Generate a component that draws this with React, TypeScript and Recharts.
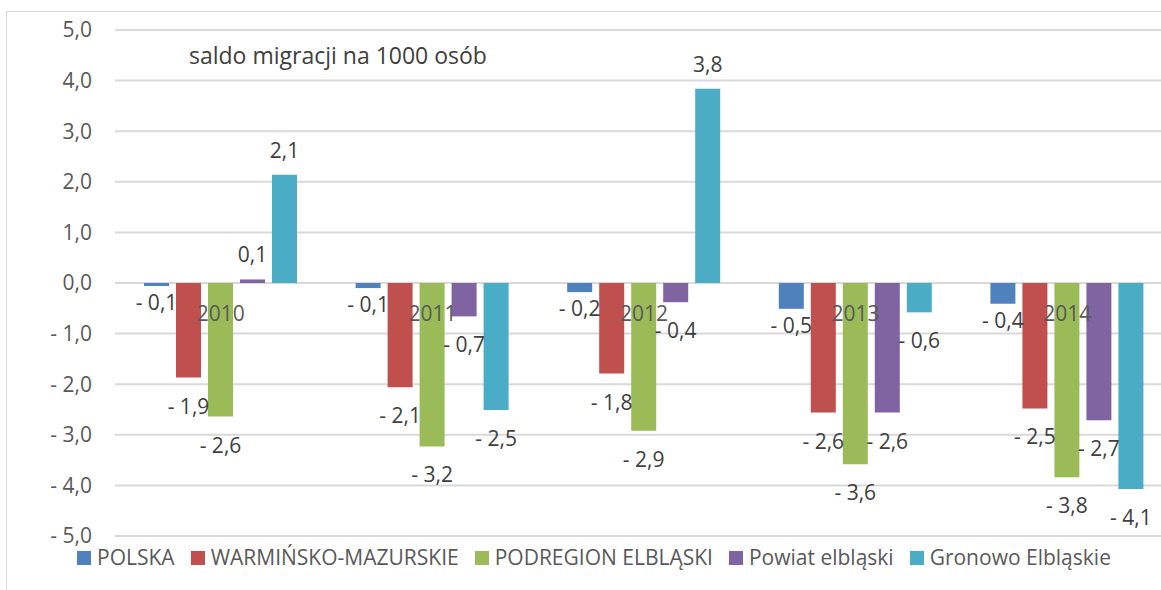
import React from 'react';
import { BarChart, Bar, XAxis, YAxis, CartesianGrid, Legend, LabelList } from 'recharts';

const YEARS = ['2010', '2011', '2012', '2013', '2014'];
const POLSKA = [-0.06, -0.1, -0.18, -0.51, -0.41];
const WARMINSKO = [-1.87, -2.06, -1.79, -2.56, -2.48];
const PODREGION = [-2.64, -3.23, -2.92, -3.58, -3.84];
const POWIAT = [0.07, -0.66, -0.38, -2.56, -2.71];
const GRONOWO = [2.14, -2.51, 3.84, -0.58, -4.07];
const Y_TICKS = [5, 4, 3, 2, 1, 0, -1, -2, -3, -4, -5];
const Y_MIN = -5;
const Y_MAX = 5;
const TITLE = 'saldo migracji na 1000 osób';

const SERIES = [
  { key: 'polska', name: 'POLSKA', values: POLSKA, color: '#4F81BD', gap: 16 },
  { key: 'warminsko', name: 'WARMIŃSKO-MAZURSKIE', values: WARMINSKO, color: '#C0504D', gap: 28 },
  { key: 'podregion', name: 'PODREGION ELBLĄSKI', values: PODREGION, color: '#9BBB59', gap: 28 },
  { key: 'powiat', name: 'Powiat elbląski', values: POWIAT, color: '#8064A2', gap: 28 },
  { key: 'gronowo', name: 'Gronowo Elbląskie', values: GRONOWO, color: '#4BACC6', gap: 28 },
];

const data = YEARS.map((year, i) => {
  const row: Record<string, any> = { year };
  SERIES.forEach((s) => {
    row[s.key] = s.values[i];
  });
  return row;
});

const FONT = "'Open Sans', 'Noto Sans', sans-serif";
const CHART_W = 1185;
const CHART_H = 590;
const MARGIN = { top: 30, right: 12, bottom: 53, left: 0 };
const X_AXIS_H = 1;
const PLOT_H = CHART_H - MARGIN.top - MARGIN.bottom - X_AXIS_H;
const BOTTOM_TO_ZERO = (PLOT_H * (0 - Y_MIN)) / (Y_MAX - Y_MIN);

const fmt = (v: number) => {
  const s = Math.abs(v).toFixed(1).replace('.', ',');
  return v < 0 && s !== '0,0' ? '- ' + s : s;
};

const makeLabel = (belowGap: number) => (props: any) => {
  const vb = props.viewBox || {};
  const x = Number(props.x ?? vb.x);
  const y = Number(props.y ?? vb.y);
  const w = Number(props.width ?? vb.width);
  const h = Number(props.height ?? vb.height);
  const v = Number(props.value);
  const top = Math.min(y, y + h);
  const bottom = Math.max(y, y + h);
  const cy = v >= 0 ? top - 25 : bottom + belowGap;
  return (
    <text
      x={x + w / 2}
      y={cy}
      textAnchor="middle"
      dominantBaseline="central"
      fontSize={21}
      fill="#404040"
      fontFamily={FONT}
    >
      {fmt(v)}
    </text>
  );
};

const CategoryTick = (props: any) => {
  const { x, y, payload } = props;
  return (
    <text
      x={x}
      y={y - BOTTOM_TO_ZERO + 30}
      textAnchor="middle"
      dominantBaseline="central"
      fontSize={21}
      fill="#595959"
      fontFamily={FONT}
    >
      {payload.value}
    </text>
  );
};

const LegendContent = () => {
  return (
    <div
      style={{
        display: 'flex',
        justifyContent: 'center',
        alignItems: 'center',
        width: 1188,
        fontFamily: FONT,
        fontSize: 21,
        lineHeight: '21px',
        color: '#595959',
        whiteSpace: 'nowrap',
      }}
    >
      {SERIES.map((s, i) => (
        <div key={s.key} style={{ display: 'flex', alignItems: 'center', marginRight: i < SERIES.length - 1 ? 16 : 0 }}>
          <span style={{ display: 'inline-block', width: 14, height: 14, background: s.color, marginRight: 6 }} />
          <span>{s.name}</span>
        </div>
      ))}
    </div>
  );
};

export default function App() {
  return (
    <div
      style={{
        position: 'absolute',
        left: 0,
        top: 0,
        width: 1161,
        height: 590,
        overflow: 'hidden',
        background: '#ffffff',
        fontFamily: FONT,
      }}
    >
      <div
        style={{
          position: 'absolute',
          left: 6,
          top: 11,
          width: 1200,
          height: 600,
          borderTop: '1.5px solid #d9d9d9',
          borderLeft: '1.5px solid #d9d9d9',
        }}
      />
      <div
        style={{
          position: 'absolute',
          left: 189,
          top: 39,
          fontSize: 23,
          lineHeight: 'normal',
          color: '#404040',
          fontFamily: FONT,
          whiteSpace: 'nowrap',
        }}
      >
        {TITLE}
      </div>
      <div style={{ position: 'absolute', left: 0, top: 0 }}>
        <BarChart
          width={CHART_W}
          height={CHART_H}
          data={data}
          margin={MARGIN}
          barSize={25}
          barGap={7}
        >
          <CartesianGrid vertical={false} stroke="#d9d9d9" strokeWidth={2} />
          <XAxis
            dataKey="year"
            height={X_AXIS_H}
            axisLine={false}
            tickLine={false}
            tickSize={0}
            tickMargin={0}
            tick={<CategoryTick />}
            interval={0}
          />
          <YAxis
            domain={[Y_MIN, Y_MAX]}
            ticks={Y_TICKS}
            width={115}
            axisLine={false}
            tickLine={false}
            tickSize={0}
            tickMargin={23}
            tickFormatter={(v: number) => fmt(v)}
            tick={{ fontSize: 21, fill: '#595959', fontFamily: FONT }}
            interval={0}
          />
          <Legend
            verticalAlign="middle"
            align="center"
            layout="horizontal"
            wrapperStyle={{ top: 547, left: 0, width: 1188 }}
            content={<LegendContent />}
          />
          {SERIES.map((s) => (
            <Bar key={s.key} dataKey={s.key} name={s.name} fill={s.color} isAnimationActive={false}>
              <LabelList dataKey={s.key} content={makeLabel(s.gap)} />
            </Bar>
          ))}
        </BarChart>
      </div>
    </div>
  );
}
